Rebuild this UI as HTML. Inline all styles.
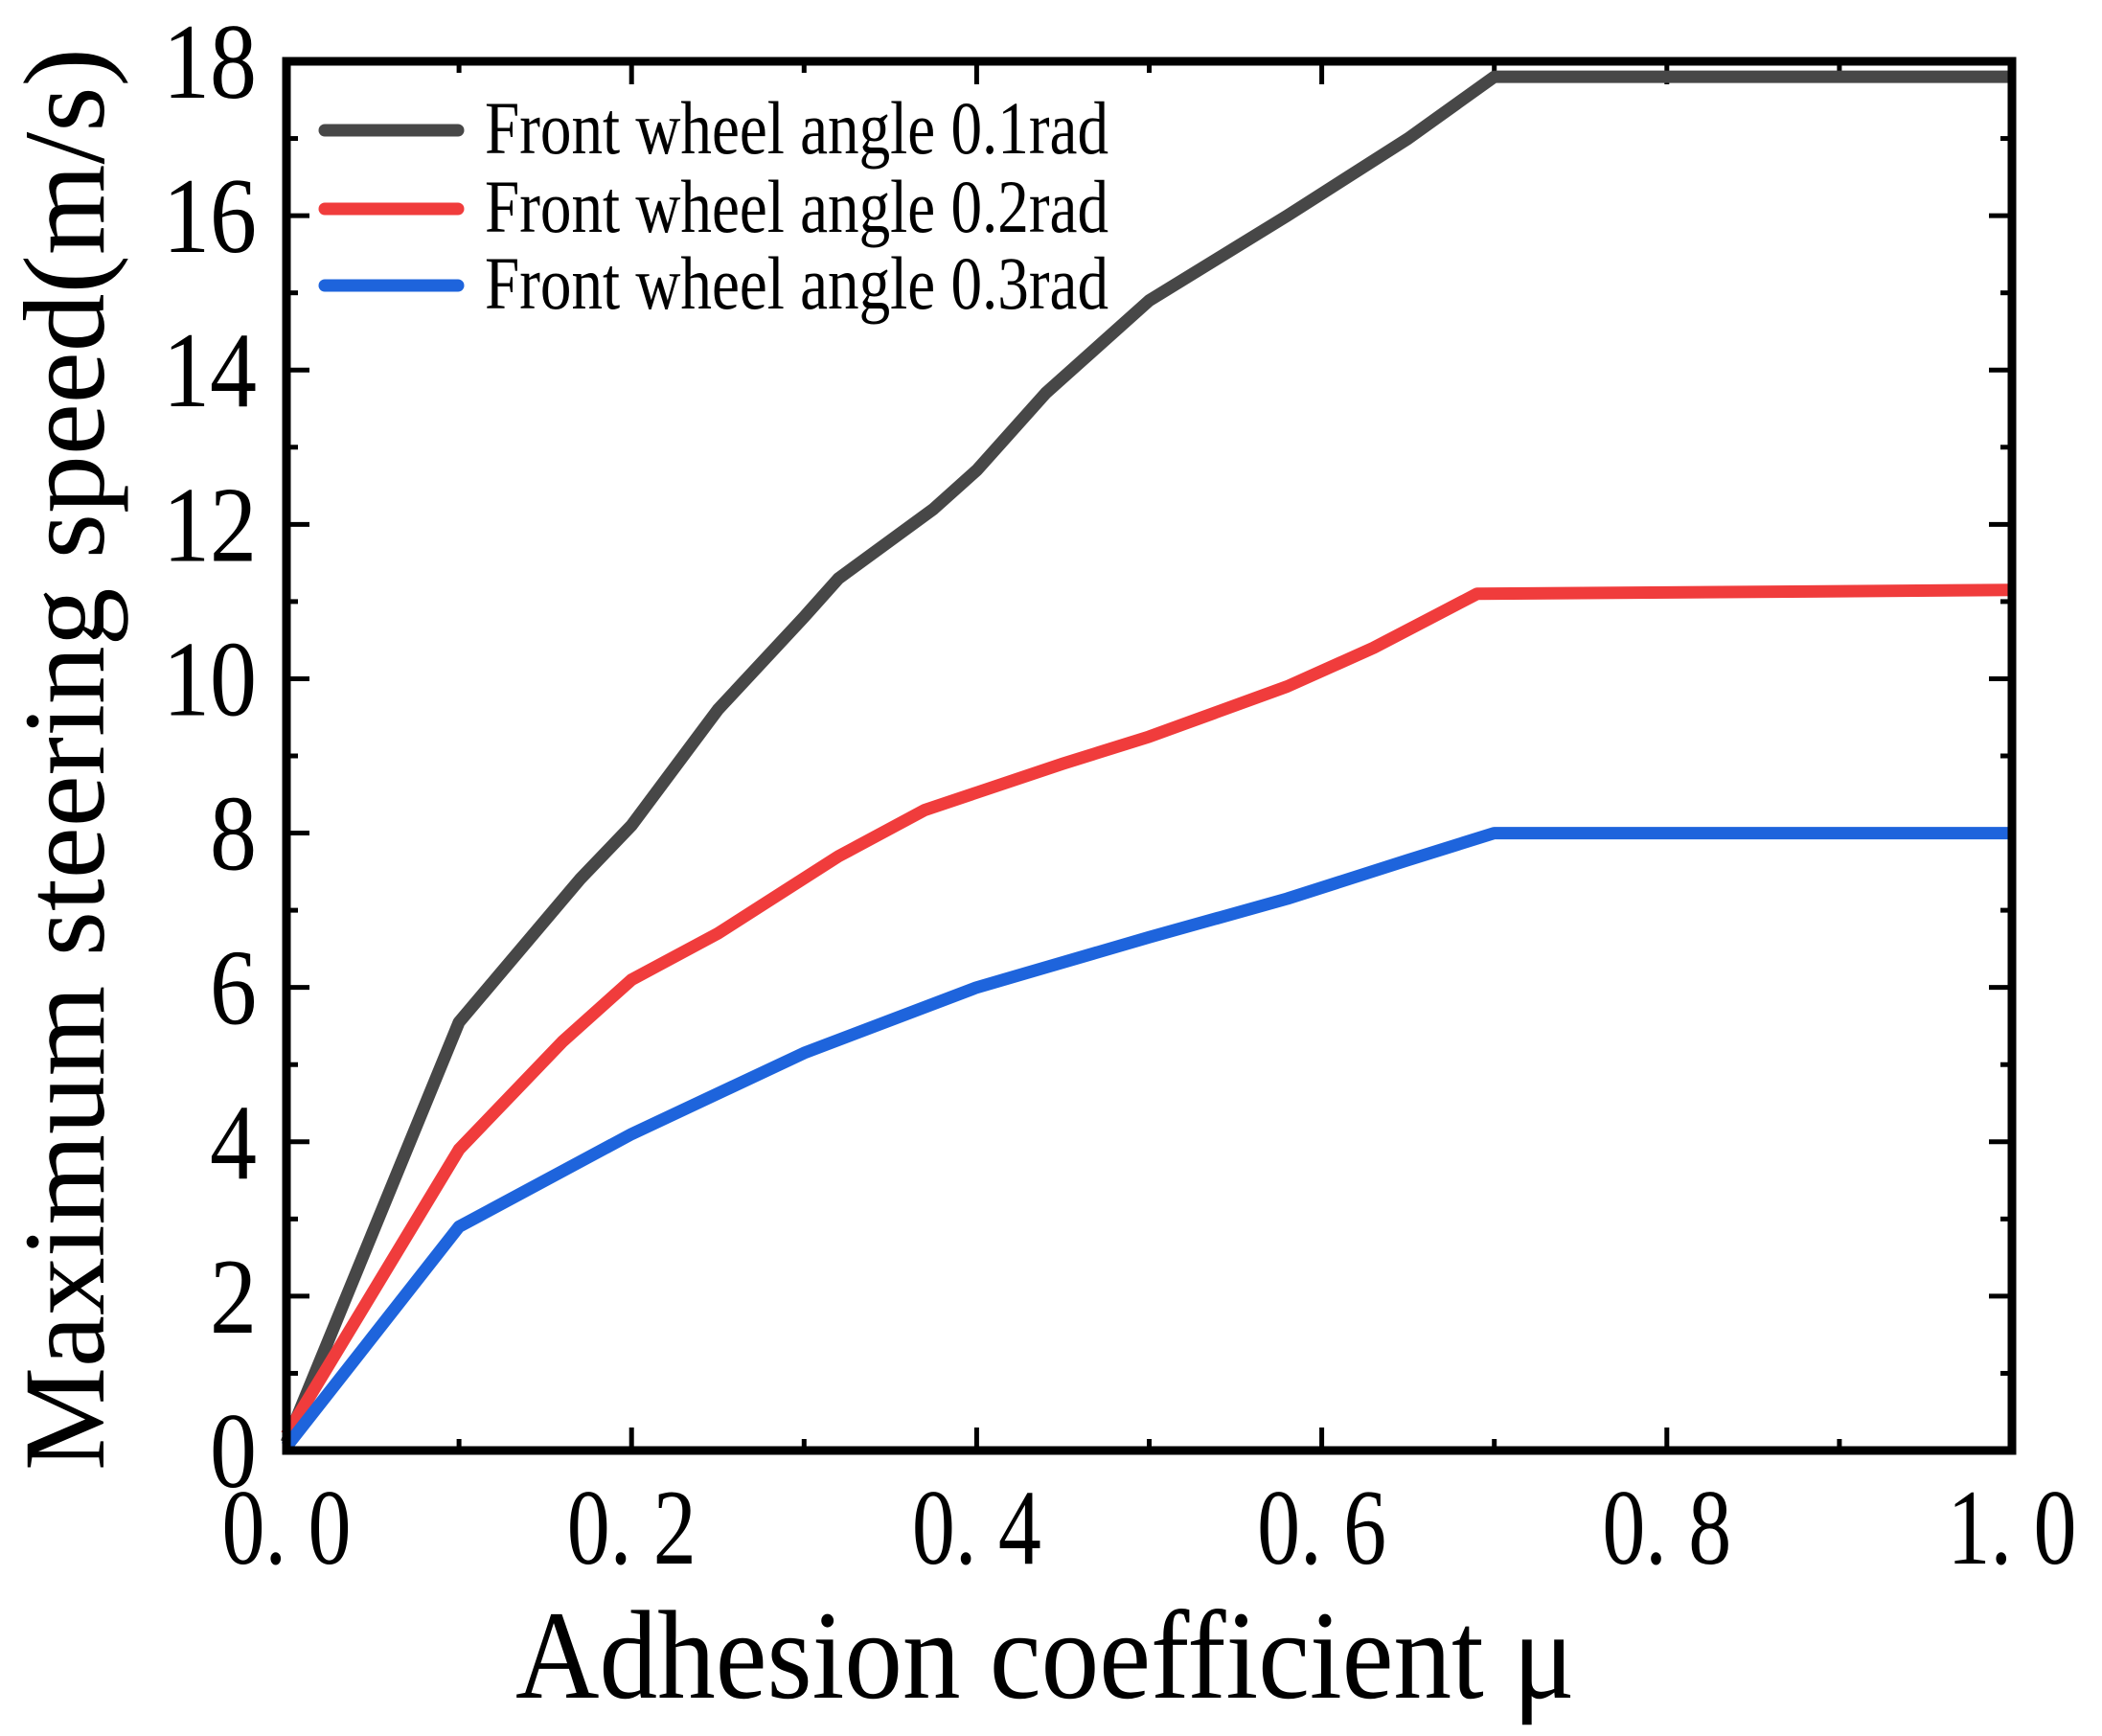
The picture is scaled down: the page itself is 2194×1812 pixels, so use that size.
<!DOCTYPE html>
<html><head><meta charset="utf-8"><style>html,body{margin:0;padding:0;background:#fff}svg{display:block}</style></head>
<body>
<svg id="chart" width="2194" height="1812" viewBox="0 0 2194 1812" xmlns="http://www.w3.org/2000/svg" font-family="'Liberation Serif', serif">
<g id="ticks"></g>
<g id="series"></g>
<rect x="299" y="64" width="1801" height="1450" fill="none" stroke="#000" stroke-width="9"/>
<text transform="translate(108,1535) rotate(-90) scale(1,1.08)" font-size="112" textLength="1485" lengthAdjust="spacingAndGlyphs">Maximum steering speed(m/s)</text>
<text transform="translate(538,1772) scale(1,1.1)" x="0" y="0" font-size="120" textLength="1106" lengthAdjust="spacingAndGlyphs">Adhesion coefficient μ</text>
<g id="legend"></g>
</svg>
<script>
const xTicks = [0, 0.2, 0.4, 0.6, 0.8, 1.0];
const xTickLabels = ["0. 0", "0. 2", "0. 4", "0. 6", "0. 8", "1. 0"];
const yTicks = [0, 2, 4, 6, 8, 10, 12, 14, 16, 18];
const seriesNames = ["Front wheel angle 0.1rad", "Front wheel angle 0.2rad", "Front wheel angle 0.3rad"];
const x1 = [0, 0.1, 0.17, 0.2, 0.25, 0.3, 0.32, 0.375, 0.4, 0.44, 0.5, 0.58, 0.65, 0.7, 1.0];
const y1 = [0.1, 5.55, 7.4, 8.1, 9.6, 10.8, 11.3, 12.2, 12.7, 13.7, 14.9, 16.0, 17.0, 17.8, 17.8];
const x2 = [0, 0.1, 0.16, 0.2, 0.25, 0.32, 0.37, 0.45, 0.5, 0.58, 0.63, 0.69, 1.0];
const y2 = [0.2, 3.9, 5.3, 6.1, 6.7, 7.7, 8.3, 8.9, 9.25, 9.9, 10.4, 11.1, 11.15];
const x3 = [0, 0.1, 0.2, 0.3, 0.4, 0.5, 0.58, 0.65, 0.7, 1.0];
const y3 = [0.05, 2.9, 4.1, 5.15, 6.0, 6.65, 7.15, 7.65, 8.0, 8.0];
const colors = ["#474747", "#f03c3c", "#1e64dc"];

const NS = "http://www.w3.org/2000/svg";
const L = 299, R = 2100, T = 64, B = 1514;
const sx = v => L + (v - 0) / 1.0 * (R - L);
const sy = v => B - (v - 0) / 18 * (B - T);
function mk(tag, attrs, parent) { const e = document.createElementNS(NS, tag); for (const k in attrs) e.setAttribute(k, attrs[k]); parent.appendChild(e); return e; }

const tg = document.getElementById("ticks");
for (let i = 0; i <= 10; i++) {
  const v = i / 10, major = i % 2 === 0, len = major ? 24 : 12, x = sx(v);
  const t1 = mk("line", {x1: x, x2: x, y1: B, y2: B - len, stroke: "#000", "stroke-width": 5}, tg);
  
  
  const t2 = mk("line", {x1: x, x2: x, y1: T, y2: T + len, stroke: "#000", "stroke-width": 5}, tg);
  
  
}
for (let v = 0; v <= 18; v++) {
  const major = v % 2 === 0, len = major ? 24 : 12, y = sy(v);
  const t1 = mk("line", {x1: L, x2: L + len, y1: y, y2: y, stroke: "#000", "stroke-width": 5}, tg);
  
  
  const t2 = mk("line", {x1: R, x2: R - len, y1: y, y2: y, stroke: "#000", "stroke-width": 5}, tg);
  
  
}
xTicks.forEach((v, i) => {
  const t = mk("text", {transform: "translate(" + sx(v) + ",1632) scale(1,1.25)", x: 0, y: 0, "font-size": 90, "text-anchor": "middle"}, tg);
  t.textContent = xTickLabels[i];
  
  
});
yTicks.forEach(v => {
  const t = mk("text", {transform: "translate(268," + (sy(v) + 38) + ") scale(1,1.15)", x: 0, y: 0, "font-size": 98, "text-anchor": "end"}, tg);
  t.textContent = String(v);
  
  
});

const sg = document.getElementById("series");
const xs = [x1, x2, x3], ys = [y1, y2, y3];
xs.forEach((xa, s) => {
  const pts = xa.map((x, i) => sx(x).toFixed(1) + "," + sy(ys[s][i]).toFixed(1)).join(" ");
  const p = mk("polyline", {points: pts, fill: "none", stroke: colors[s], "stroke-width": 13, "stroke-linejoin": "round"}, sg);
  
  
});

const lg = document.getElementById("legend");
const ly = [136, 218, 298];
seriesNames.forEach((n, s) => {
  const l = mk("line", {x1: 339, x2: 478, y1: ly[s], y2: ly[s], stroke: colors[s], "stroke-width": 13, "stroke-linecap": "round"}, lg);
  
  
  const t = mk("text", {transform: "translate(506," + (ly[s] + 24) + ") scale(1,1.3)", x: 0, y: 0, "font-size": 60, textLength: 651, lengthAdjust: "spacingAndGlyphs"}, lg);
  t.textContent = n;
  
  
});
</script>
</body></html>
